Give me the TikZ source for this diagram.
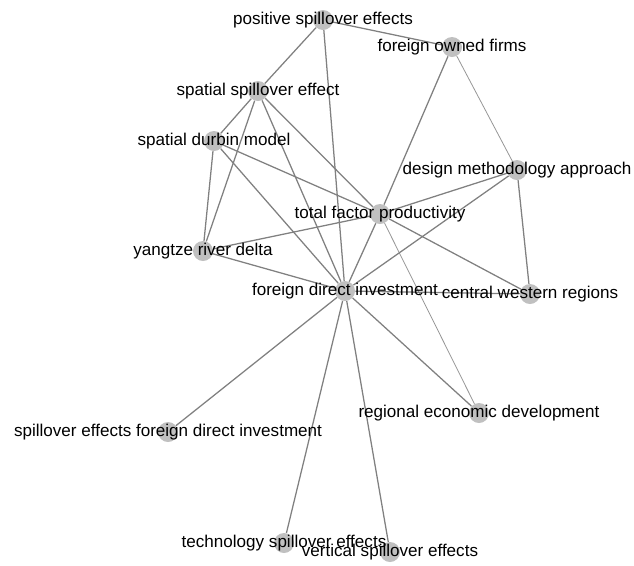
\documentclass[tikz,border=0pt]{standalone}
\usepackage{fontspec}
\setmainfont{Liberation Sans}
\definecolor{edgegray}{RGB}{128,128,128}
\definecolor{thingray}{RGB}{150,150,150}
\definecolor{dotgray}{RGB}{192,192,192}
\begin{document}
\begin{tikzpicture}[x=0.75pt,y=-0.75pt]
\tikzstyle{every node}+=[inner sep=0pt]
\tikzstyle{term}=[circle,fill=dotgray,minimum size=15pt]
\tikzstyle{word}=[font=\fontsize{12.8}{15}\selectfont,text=black]
\tikzstyle{link}=[draw=edgegray,line width=0.95pt]
\tikzstyle{faint}=[draw=thingray,line width=0.6pt]
\useasboundingbox (0,0) rectangle (634,565);
% keyword dots
\node [term] (pse) at (323,20) {};
\node [term] (fof) at (452,47) {};
\node [term] (sse) at (258,91) {};
\node [term] (sdm) at (214,141) {};
\node [term] (dma) at (517,170) {};
\node [term] (tfp) at (380,214) {};
\node [term] (yrd) at (203,251) {};
\node [term] (fdi) at (345,291) {};
\node [term] (cwr) at (530,294) {};
\node [term] (red) at (479,413) {};
\node [term] (sefdi) at (168,432) {};
\node [term] (tse) at (284,543) {};
\node [term] (vse) at (390,552) {};
% co-occurrence links
\draw [link] (pse) -- (fof);
\draw [link] (pse) -- (sse);
\draw [link] (pse) -- (fdi);
\draw [link] (fof) -- (tfp);
\draw [faint] (fof) -- (dma);
\draw [link] (sse) -- (sdm);
\draw [link] (sse) -- (yrd);
\draw [link] (sse) -- (fdi);
\draw [link] (sse) -- (tfp);
\draw [link] (sdm) -- (yrd);
\draw [link] (sdm) -- (tfp);
\draw [link] (sdm) -- (fdi);
\draw [link] (yrd) -- (tfp);
\draw [link] (yrd) -- (fdi);
\draw [link] (tfp) -- (dma);
\draw [link] (tfp) -- (fdi);
\draw [link] (tfp) -- (cwr);
\draw [faint] (tfp) -- (red);
\draw [link] (dma) -- (fdi);
\draw [link] (dma) -- (cwr);
\draw [link] (fdi) -- (cwr);
\draw [link] (fdi) -- (red);
\draw [link] (fdi) -- (sefdi);
\draw [link] (fdi) -- (tse);
\draw [link] (fdi) -- (vse);
% labels on top
\node [word] at (pse) {positive spillover effects};
\node [word] at (fof) {foreign owned firms};
\node [word] at (sse) {spatial spillover effect};
\node [word] at (sdm) {spatial durbin model};
\node [word] at (dma) {design methodology approach};
\node [word] at (tfp) {total factor productivity};
\node [word] at (yrd) {yangtze river delta};
\node [word] at (fdi) {foreign direct investment};
\node [word] at (cwr) {central western regions};
\node [word] at (red) {regional economic development};
\node [word] at (sefdi) {spillover effects foreign direct investment};
\node [word] at (tse) {technology spillover effects};
\node [word] at (vse) {vertical spillover effects};
\end{tikzpicture}
\end{document}
